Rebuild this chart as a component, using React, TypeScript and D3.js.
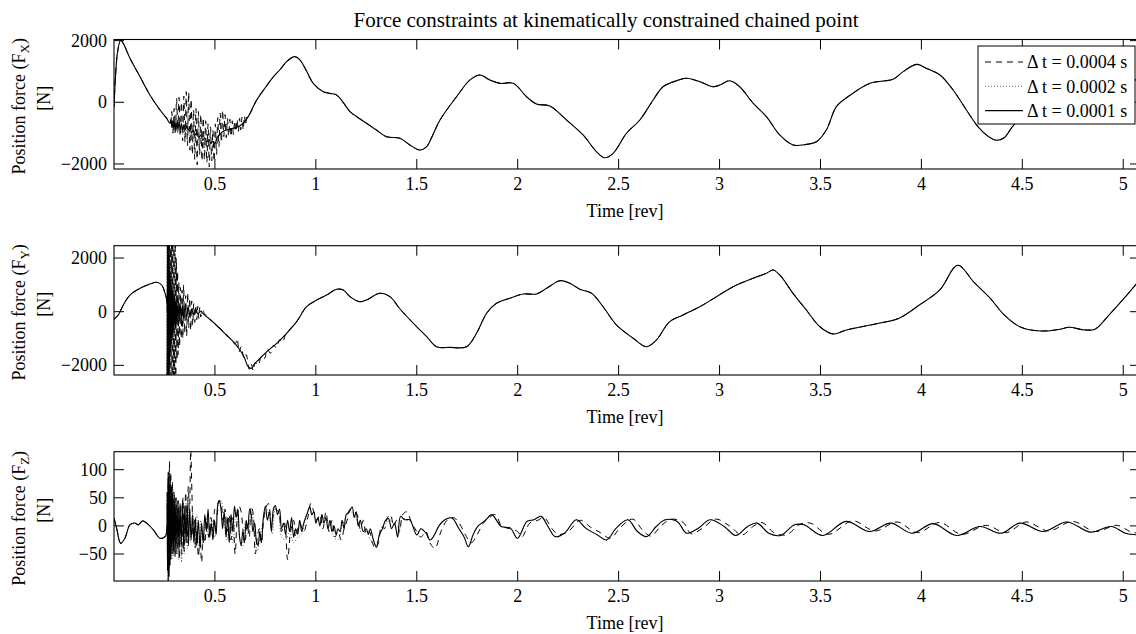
import React from 'react';
import * as d3 from 'd3';

type P = [number, number];

const TITLE = 'Force constraints at kinematically constrained chained point';
const X_LABEL = 'Time [rev]';
const X_TICKS = [0.5, 1, 1.5, 2, 2.5, 3, 3.5, 4, 4.5, 5];
const LEGEND = ['\u0394 t = 0.0004 s', '\u0394 t = 0.0002 s', '\u0394 t = 0.0001 s'];
const Y_SUBS = ['X', 'Y', 'Z'];
const FX_TICKS = [-2000, 0, 2000];
const FY_TICKS = [-2000, 0, 2000];
const FZ_TICKS = [-50, 0, 50, 100];

// ---------- F_X ----------
const fxHead: P[] = [[0,-150],[0.008,900],[0.018,1650],[0.033,2010],[0.046,1910],[0.079,1430],[0.129,830],[0.178,237],[0.228,-250],[0.261,-520],[0.277,-680]];
const fxSolidBurst: P[] = [[0.282,-560],[0.287,-820],[0.292,-600],[0.297,-870],[0.302,-620],[0.307,-900],[0.312,-650],[0.317,-860],[0.322,-640],[0.328,-880],[0.334,-700],[0.34,-900],[0.347,-720],[0.354,-880],[0.361,-760],[0.368,-900],[0.376,-800],[0.384,-1000],[0.392,-900],[0.4,-1080],[0.41,-980],[0.42,-1150],[0.43,-1060],[0.44,-1230],[0.45,-1150],[0.46,-1290],[0.47,-1200],[0.48,-1340],[0.49,-1260],[0.5,-1340],[0.51,-1150],[0.52,-1060],[0.53,-1000],[0.54,-950]];
const fxDashBurst: P[] = [[0.28,-700],[0.286,-300],[0.292,-1000],[0.298,-200],[0.304,-1050],[0.31,130],[0.316,-950],[0.322,160],[0.328,-1100],[0.334,0],[0.34,-1250],[0.346,200],[0.352,-1300],[0.358,345],[0.364,-1400],[0.37,330],[0.376,-1550],[0.382,100],[0.388,-1700],[0.394,-240],[0.4,-1850],[0.406,-200],[0.412,-2030],[0.418,-300],[0.424,-1700],[0.43,-400],[0.436,-1900],[0.442,-500],[0.448,-1870],[0.454,-600],[0.46,-1950],[0.466,-700],[0.472,-2100],[0.478,-800],[0.484,-1900],[0.49,-900],[0.496,-1920],[0.502,-700],[0.508,-1700],[0.514,-500],[0.52,-1440],[0.526,-350],[0.532,-1300],[0.538,-250],[0.544,-1115],[0.55,-400],[0.556,-1150],[0.562,-520],[0.568,-1100],[0.574,-550],[0.58,-1115],[0.586,-600],[0.592,-1050],[0.598,-600],[0.604,-950],[0.61,-550],[0.616,-950],[0.622,-520],[0.628,-900],[0.634,-480],[0.64,-900],[0.646,-450],[0.652,-750],[0.66,-400],[0.67,-400],[0.68,-300]];
const fxDotBurst: P[] = [[0.28,-700],[0.285,-400],[0.291,-950],[0.297,-450],[0.303,-1000],[0.309,-500],[0.315,-1000],[0.321,-550],[0.327,-1050],[0.333,-600],[0.339,-1050],[0.345,-650],[0.351,-1100],[0.357,-700],[0.363,-1100],[0.37,-750],[0.377,-1150],[0.384,-800],[0.391,-1200],[0.398,-900],[0.405,-1250],[0.412,-1000],[0.42,-1300],[0.428,-1050],[0.436,-1350],[0.444,-1100],[0.452,-1400],[0.46,-1150],[0.47,-1400],[0.48,-1200],[0.49,-1400],[0.5,-1250],[0.51,-1300],[0.52,-1100],[0.535,-1000],[0.55,-920]];
const fxTail: P[] = [[0.557,-900],[0.575,-870],[0.59,-840],[0.607,-810],[0.624,-760],[0.64,-680],[0.665,-465],[0.69,-140],[0.707,75],[0.75,480],[0.79,830],[0.825,1080],[0.855,1320],[0.896,1480],[0.921,1375],[0.955,1000],[0.987,615],[1.037,345],[1.07,290],[1.103,237],[1.135,0],[1.169,-305],[1.21,-500],[1.251,-680],[1.3,-900],[1.35,-1115],[1.417,-1170],[1.466,-1385],[1.516,-1550],[1.549,-1440],[1.58,-1050],[1.615,-575],[1.697,180],[1.764,725],[1.813,885],[1.862,725],[1.912,615],[1.978,615],[2.044,180],[2.093,-55],[2.159,-120],[2.242,-575],[2.324,-1060],[2.39,-1600],[2.431,-1800],[2.473,-1655],[2.539,-1005],[2.605,-575],[2.671,75],[2.72,505],[2.787,700],[2.836,780],[2.902,670],[2.968,505],[3.001,560],[3.05,700],[3.1,505],[3.166,-30],[3.232,-465],[3.298,-1060],[3.364,-1385],[3.43,-1365],[3.48,-1280],[3.529,-900],[3.579,-140],[3.645,220],[3.745,615],[3.81,690],[3.86,745],[3.91,995],[3.976,1230],[4.025,1100],[4.092,885],[4.157,400],[4.223,-250],[4.28,-790],[4.33,-1100],[4.37,-1230],[4.41,-1150],[4.45,-800],[4.5,-450],[4.6,100],[4.7,500],[4.8,800],[4.9,900],[5.0,800],[5.083,700]];

// ---------- F_Y ----------
const fyHead: P[] = [[0,-285],[0.021,-125],[0.046,250],[0.079,620],[0.129,870],[0.178,1030],[0.211,1095],[0.236,995],[0.253,685],[0.261,435]];
const fySolidBurst: P[] = [[0.263,-2600],[0.2645,2600],[0.266,-2600],[0.2675,2600],[0.269,-2600],[0.2705,2600],[0.272,-2500],[0.2735,2500],[0.275,-2000],[0.277,1500],[0.279,-1500],[0.281,1200],[0.284,-1200],[0.287,1000],[0.29,-900],[0.293,800],[0.296,-700],[0.3,600],[0.304,-600],[0.308,500],[0.312,-450],[0.317,400],[0.322,-350],[0.327,350],[0.333,-300],[0.339,250],[0.345,-250],[0.352,200],[0.36,-200],[0.368,150],[0.376,-150],[0.385,100],[0.395,-100],[0.405,80],[0.415,-80],[0.43,20],[0.44,-60]];
const fyDashBurst: P[] = [[0.264,-2600],[0.267,2600],[0.27,-2600],[0.273,2600],[0.276,-2600],[0.279,2600],[0.282,-2600],[0.285,2600],[0.288,-2600],[0.291,2600],[0.294,-2600],[0.297,2600],[0.3,-2600],[0.303,2600],[0.306,-2400],[0.309,2000],[0.312,-1800],[0.315,1500],[0.318,-1600],[0.321,1100],[0.325,-1300],[0.329,900],[0.333,-1000],[0.337,800],[0.341,-1000],[0.345,1000],[0.35,-800],[0.355,600],[0.36,-900],[0.365,700],[0.37,-600],[0.375,500],[0.38,-700],[0.385,400],[0.39,-500],[0.395,300],[0.4,-400],[0.405,250],[0.41,-300],[0.415,200],[0.42,-250],[0.425,150],[0.43,-200],[0.44,50],[0.45,-100],[0.46,-150],[0.5,-450],[0.56,-870],[0.6,-1200],[0.61,-1000],[0.62,-1500],[0.63,-1300],[0.645,-1750],[0.655,-1600],[0.67,-2150],[0.68,-1950],[0.69,-2200],[0.7,-1900],[0.715,-2000],[0.73,-1650],[0.745,-1750],[0.76,-1400],[0.775,-1550],[0.79,-1250],[0.805,-1350],[0.82,-1050],[0.835,-1150],[0.85,-850]];
const fyDotBurst: P[] = [[0.262,-2600],[0.2635,2600],[0.265,-2600],[0.2665,2600],[0.268,-2600],[0.2695,2600],[0.271,-2600],[0.2725,2600],[0.274,-2600],[0.276,2400],[0.278,-2000],[0.28,1800],[0.283,-1500],[0.286,1300],[0.289,-1100],[0.292,1000],[0.296,-900],[0.3,800],[0.304,-700],[0.309,600],[0.314,-550],[0.319,500],[0.325,-450],[0.331,400],[0.337,-350],[0.344,300],[0.351,-300],[0.358,250],[0.366,-200],[0.375,150],[0.385,-150],[0.395,100],[0.405,-100],[0.418,50],[0.43,-50],[0.44,-60]];
const fyTail: P[] = [[0.5,-450],[0.557,-870],[0.595,-1150],[0.624,-1430],[0.645,-1700],[0.665,-2050],[0.682,-2110],[0.695,-1950],[0.707,-1865],[0.757,-1490],[0.806,-1180],[0.847,-870],[0.905,-370],[0.954,185],[1.004,435],[1.053,620],[1.103,835],[1.136,810],[1.169,560],[1.218,373],[1.251,435],[1.317,685],[1.367,560],[1.417,100],[1.483,-433],[1.549,-930],[1.598,-1305],[1.664,-1330],[1.747,-1305],[1.796,-805],[1.846,-60],[1.895,313],[1.961,500],[2.027,660],[2.093,660],[2.143,870],[2.209,1155],[2.258,1060],[2.308,835],[2.366,685],[2.423,185],[2.489,-495],[2.572,-990],[2.638,-1305],[2.687,-1055],[2.753,-370],[2.819,-120],[2.902,185],[2.985,560],[3.067,930],[3.166,1245],[3.232,1430],[3.265,1555],[3.298,1370],[3.364,685],[3.43,63],[3.497,-560],[3.563,-830],[3.629,-680],[3.79,-430],[3.89,-240],[3.99,250],[4.09,800],[4.18,1730],[4.26,1100],[4.34,510],[4.41,-120],[4.49,-570],[4.59,-720],[4.69,-650],[4.73,-580],[4.81,-680],[4.86,-650],[4.93,-120],[5.01,550],[5.083,1200]];

// ---------- F_Z ----------
const fzHead: P[] = [[0,14],[0.013,-4],[0.033,-31],[0.054,-22],[0.079,2],[0.104,5],[0.12,2],[0.142,9],[0.162,5],[0.195,-7],[0.228,-22],[0.253,-19],[0.261,-10]];
const fzSolidBurst: P[] = [[0.263,60],[0.265,-80],[0.267,85],[0.269,-105],[0.271,88],[0.273,-90],[0.275,75],[0.277,-70],[0.279,80],[0.282,-60],[0.285,70],[0.288,-50],[0.291,65],[0.295,-45],[0.299,55],[0.303,-50],[0.307,50],[0.312,-40],[0.317,45],[0.322,-45],[0.327,40],[0.333,-35],[0.339,45],[0.345,-40],[0.351,35],[0.357,-30],[0.363,40],[0.369,-35],[0.375,30],[0.382,-25],[0.389,20],[0.396,-30],[0.403,15],[0.41,-35],[0.418,10],[0.426,-40],[0.434,5],[0.442,-30],[0.45,20],[0.458,-10],[0.466,30],[0.474,-20],[0.482,5],[0.49,-25],[0.498,10],[0.506,-15],[0.515,40],[0.522,45],[0.53,30],[0.538,-5],[0.546,25],[0.555,-20],[0.563,15],[0.571,-30],[0.58,20],[0.588,-10],[0.597,35],[0.605,15],[0.613,30],[0.622,-20],[0.63,-35],[0.638,-10],[0.646,-30],[0.655,10],[0.663,-5],[0.672,30],[0.68,20],[0.688,-10],[0.697,5],[0.705,-25],[0.714,-35],[0.722,-10],[0.73,-30],[0.74,15],[0.75,35],[0.76,10],[0.77,25],[0.78,-10],[0.79,30],[0.8,36],[0.81,20],[0.82,30],[0.83,-5],[0.84,5],[0.85,-15],[0.86,10],[0.87,-10],[0.88,15],[0.89,-20],[0.9,-5],[0.91,-15],[0.92,10],[0.93,-10],[0.94,5],[0.955,20],[0.97,34],[0.98,20],[0.99,25],[1.0,5],[1.01,15],[1.02,0],[1.03,20],[1.04,5],[1.05,15],[1.06,-5],[1.07,10],[1.08,-10],[1.09,0],[1.1,-15],[1.11,-5],[1.12,-10],[1.13,10],[1.14,-5],[1.15,20],[1.165,25],[1.18,34],[1.19,15],[1.2,25],[1.21,0],[1.22,10],[1.235,-10],[1.25,-5],[1.26,-15],[1.27,-5],[1.285,-25],[1.3,-38],[1.315,-15],[1.33,-5],[1.345,10],[1.36,13],[1.375,-5],[1.39,5],[1.405,-20],[1.42,17],[1.44,11]];
const fzDashBurst: P[] = [[0.263,40],[0.266,-60],[0.269,100],[0.272,-80],[0.275,115],[0.278,-60],[0.281,95],[0.285,-40],[0.289,80],[0.293,-50],[0.297,60],[0.302,-55],[0.307,50],[0.312,-50],[0.318,45],[0.324,-60],[0.33,40],[0.336,-50],[0.342,50],[0.348,-45],[0.355,60],[0.362,-30],[0.368,70],[0.374,20],[0.38,135],[0.386,60],[0.392,-20],[0.398,10],[0.404,-40],[0.41,-10],[0.418,-55],[0.426,-20],[0.434,-65],[0.442,-10],[0.45,-30],[0.46,10],[0.47,-20],[0.48,15],[0.49,-10],[0.5,30],[0.51,20],[0.52,45],[0.53,40],[0.54,10],[0.55,30],[0.56,-10],[0.57,20],[0.58,-25],[0.59,15],[0.6,-50],[0.61,10],[0.62,35],[0.63,25],[0.64,-10],[0.65,-25],[0.66,5],[0.67,-20],[0.68,35],[0.69,20],[0.7,-50],[0.71,-20],[0.72,-5],[0.73,-30],[0.74,5],[0.75,30],[0.765,40],[0.78,0],[0.79,20],[0.8,30],[0.815,25],[0.83,-10],[0.845,5],[0.86,-60],[0.875,-10],[0.89,10],[0.9,-20],[0.92,5],[0.94,-10],[0.96,15],[0.975,40],[0.99,25],[1.005,10],[1.02,20],[1.035,-5],[1.05,25],[1.065,-10],[1.08,10],[1.095,-20],[1.11,-10],[1.125,-25],[1.14,-5],[1.155,10],[1.17,30],[1.19,25],[1.205,20],[1.22,-5],[1.235,10],[1.25,-15],[1.265,-10],[1.28,-30],[1.295,-40],[1.31,-30],[1.325,0],[1.34,-5],[1.355,15],[1.37,20],[1.385,0],[1.4,10],[1.415,-10],[1.43,20],[1.45,25],[1.475,5],[1.5,-10],[1.52,-20],[1.545,-10],[1.565,-30],[1.59,-40],[1.62,-10],[1.65,10],[1.68,15],[1.71,5],[1.74,-15],[1.77,-30],[1.8,-15],[1.83,5],[1.86,15],[1.89,20],[1.92,0],[1.96,-5],[2.0,-10],[2.02,-20],[2.06,5],[2.1,10],[2.13,15],[2.17,-5],[2.2,-15],[2.25,-10],[2.31,10],[2.36,-2],[2.41,-12],[2.46,-22],[2.51,-2],[2.57,12],[2.62,-8],[2.66,-18],[2.71,0],[2.76,12],[2.82,6],[2.86,-14],[2.92,-3],[2.98,12],[3.05,0],[3.11,-16],[3.17,0],[3.21,6],[3.27,-12],[3.33,-16],[3.4,3],[3.45,5],[3.54,-15],[3.66,9],[3.77,-9],[3.88,7],[3.98,-12],[4.09,6],[4.2,-15],[4.32,1],[4.42,-12],[4.52,7],[4.63,-9],[4.75,8],[4.86,-10],[4.97,1],[5.04,-11],[5.083,-13]];
const fzDotBurst: P[] = [[0.263,50],[0.266,-99],[0.269,90],[0.272,-95],[0.275,80],[0.279,-70],[0.283,70],[0.287,-60],[0.292,55],[0.297,-55],[0.302,45],[0.308,-50],[0.314,40],[0.32,-60],[0.327,35],[0.334,-65],[0.341,30],[0.348,-50],[0.356,40],[0.364,-40],[0.372,45],[0.38,-30],[0.39,25],[0.4,-40],[0.41,20],[0.42,-45],[0.43,10],[0.44,-35],[0.455,15],[0.47,-25],[0.485,10],[0.5,-20],[0.515,35],[0.53,45],[0.545,15],[0.56,-25],[0.575,20],[0.59,-30],[0.605,25],[0.62,-15],[0.635,-40],[0.65,5],[0.665,-15],[0.68,25],[0.695,0],[0.71,-45],[0.725,-15],[0.74,10],[0.755,30],[0.77,15],[0.785,-15],[0.8,30],[0.815,25],[0.83,-20],[0.85,-25],[0.87,-10],[0.89,-30],[0.91,-20],[0.93,-15],[0.95,15],[0.97,30],[0.99,15],[1.01,10],[1.03,15],[1.05,10],[1.07,0],[1.09,-20],[1.11,-25],[1.13,0],[1.15,15],[1.17,25],[1.19,20],[1.21,5],[1.23,-15],[1.25,-10],[1.27,-25],[1.29,-35],[1.31,-25],[1.33,0],[1.35,5],[1.37,10],[1.39,0],[1.41,-15],[1.43,15],[1.45,10]];
const fzTail: P[] = [[1.465,11],[1.5,-16],[1.52,-5],[1.546,-13],[1.565,-25],[1.581,-20],[1.61,0],[1.639,11],[1.674,14],[1.709,-5],[1.735,-20],[1.755,-37],[1.78,-15],[1.802,-1],[1.84,10],[1.872,20],[1.895,10],[1.918,-1],[1.964,-4],[1.999,-22],[2.046,8],[2.081,11],[2.116,17],[2.15,-1],[2.185,-19],[2.232,-13],[2.29,11],[2.337,-4],[2.395,-16],[2.441,-25],[2.488,-4],[2.546,11],[2.593,-10],[2.639,-19],[2.686,-1],[2.732,11],[2.79,8],[2.837,-13],[2.895,-4],[2.953,11],[3.023,-1],[3.081,-17],[3.139,-1],[3.186,5],[3.244,-13],[3.302,-17],[3.372,2],[3.418,2],[3.511,-17],[3.627,8],[3.743,-10],[3.848,5],[3.953,-13],[4.058,4],[4.174,-17],[4.29,-1],[4.395,-13],[4.488,5],[4.604,-10],[4.72,7],[4.837,-11],[4.941,-1],[5.011,-13],[5.083,-16]];

function join(head: P[], burst: P[], tail: P[]): P[] {
  const last = burst[burst.length - 1][0];
  return [...head, ...burst, ...tail.filter((p) => p[0] > last)];
}

const fmt = (v: number) => (v < 0 ? '\u2212' + Math.abs(v) : String(v));

const X_LEFT = 114;
const X_RIGHT = 1140;
const FONT = "'Liberation Serif', 'Times New Roman', Times, serif";

const panels = [
  { top: 39.5, bottom: 169, domain: [-2164, 2037], ticks: FX_TICKS, sub: Y_SUBS[0],
    dash: join(fxHead, fxDashBurst, fxTail), dot: join(fxHead, fxDotBurst, fxTail), solid: join(fxHead, fxSolidBurst, fxTail) },
  { top: 245.7, bottom: 375, domain: [-2360, 2460], ticks: FY_TICKS, sub: Y_SUBS[1],
    dash: join(fyHead, fyDashBurst, fyTail), dot: join(fyHead, fyDotBurst, fyTail), solid: join(fyHead, fySolidBurst, fyTail) },
  { top: 451.7, bottom: 581, domain: [-98, 132], ticks: FZ_TICKS, sub: Y_SUBS[2],
    dash: [...fzHead, ...fzDashBurst], dot: join(fzHead, fzDotBurst, fzTail), solid: join(fzHead, fzSolidBurst, fzTail) },
];

export default function App() {
  const x = d3.scaleLinear().domain([0, 5.083]).range([X_LEFT, X_RIGHT]);
  const TL = 10;
  return (
    <svg width={1136} height={634} style={{ position: 'absolute', left: 0, top: 0 }} fontFamily={FONT}>
      <rect x={0} y={0} width={1136} height={634} fill="#fff" />
      <text x={606} y={27} fontSize={21} textAnchor="middle">{TITLE}</text>
      {panels.map((p, i) => {
        const y = d3.scaleLinear().domain(p.domain).range([p.bottom, p.top]);
        const line = d3.line<P>().x((d) => x(d[0])).y((d) => y(d[1])).curve(d3.curveCatmullRom.alpha(0.5));
        const cy = (p.top + p.bottom) / 2;
        return (
          <g key={i}>
            <defs>
              <clipPath id={`clip${i}`}>
                <rect x={X_LEFT} y={p.top} width={X_RIGHT - X_LEFT} height={p.bottom - p.top} />
              </clipPath>
            </defs>
            <g clipPath={`url(#clip${i})`} fill="none">
              <path d={line(p.dash) || ''} stroke="#000" strokeWidth={1} strokeDasharray="6,5" />
              <path d={line(p.dot) || ''} stroke="#555" strokeWidth={0.9} strokeDasharray="1,2" />
              <path d={line(p.solid) || ''} stroke="#000" strokeWidth={1.1} />
            </g>
            <rect x={X_LEFT} y={p.top} width={X_RIGHT - X_LEFT} height={p.bottom - p.top} fill="none" stroke="#000" strokeWidth={1.1} />
            {X_TICKS.map((t) => (
              <g key={t}>
                <line x1={x(t)} x2={x(t)} y1={p.bottom} y2={p.bottom - TL} stroke="#000" />
                <line x1={x(t)} x2={x(t)} y1={p.top} y2={p.top + TL} stroke="#000" />
                <text x={x(t)} y={p.bottom + 21} fontSize={18} textAnchor="middle">{t}</text>
              </g>
            ))}
            {p.ticks.map((v) => (
              <g key={v}>
                <line x1={X_LEFT} x2={X_LEFT + TL} y1={y(v)} y2={y(v)} stroke="#000" />
                <line x1={X_RIGHT} x2={X_RIGHT - TL} y1={y(v)} y2={y(v)} stroke="#000" />
                <text x={107} y={y(v)} dy="0.33em" fontSize={18} textAnchor="end">{fmt(v)}</text>
              </g>
            ))}
            <text x={625} y={p.bottom + 48} fontSize={18} textAnchor="middle">{X_LABEL}</text>
            <text transform={`translate(25,${cy + 2}) rotate(-90)`} fontSize={18} textAnchor="middle">
              Position force (F<tspan fontSize={13} dy={4}>{p.sub}</tspan><tspan dy={-4}>)</tspan>
            </text>
            <text transform={`translate(50,${cy - 6}) rotate(-90)`} fontSize={18} textAnchor="middle">[N]</text>
          </g>
        );
      })}
      <g>
        <rect x={978} y={46} width={157} height={78} fill="#fff" stroke="#000" strokeWidth={1} />
        {LEGEND.map((lab, i) => {
          const ly = 62 + i * 24.3;
          const dash = i === 0 ? '6,5' : i === 1 ? '1,2' : undefined;
          return (
            <g key={lab}>
              <line x1={985} x2={1023} y1={ly} y2={ly} stroke={i === 1 ? '#555' : '#000'} strokeWidth={i === 1 ? 0.9 : 1.1} strokeDasharray={dash} />
              <text x={1027} y={ly + 6.3} fontSize={18}>{lab}</text>
            </g>
          );
        })}
      </g>
    </svg>
  );
}
